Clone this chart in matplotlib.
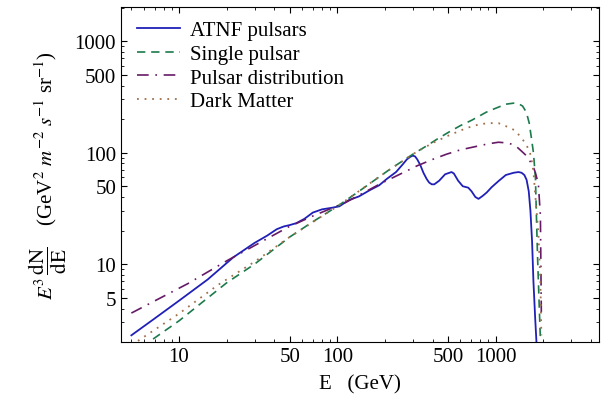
import numpy as np
import matplotlib
matplotlib.use("Agg")
import matplotlib.pyplot as plt
from matplotlib.ticker import FixedLocator, LogLocator, NullFormatter, FuncFormatter

plt.rcParams["font.family"] = ["Liberation Serif", "DejaVu Serif"]
plt.rcParams["mathtext.fontset"] = "stix"

# values (E in GeV, E^3 dN/dE)
atnf_E = [5.0, 6.9, 10, 15.2, 22, 30, 36, 41.5, 46, 50, 55, 62, 70, 80, 92, 103,
          118, 137, 160, 184, 205, 235, 260, 275, 290, 300, 310, 320, 335, 350, 367,
          380, 395, 410, 440, 480, 527, 545, 580, 620, 672, 705, 745, 780, 830, 880,
          944, 1042, 1160, 1300, 1396, 1460, 1520, 1570, 1620, 1660, 1700, 1734,
          1780, 1812]
atnf_F = [2.3, 3.2, 4.7, 7.3, 11.5, 15.5, 18, 20.6, 21.8, 22.4, 23.3, 25.5, 29, 31,
          32, 33, 37.5, 40.5, 46, 51, 58, 67, 79, 87, 92, 94, 92.5, 87, 77, 66, 58,
          54, 52, 52, 56, 64, 67, 65, 56, 50, 48.5, 45, 40, 38.5, 41, 44,
          49, 55.5, 63, 66, 67, 66, 63, 57, 45, 30, 16, 7,
          3.2, 2.0]

single_E = [6.86, 10, 20, 30, 50, 70, 100, 137, 212, 304, 363, 430, 507, 600, 705,
            875, 1000, 1160, 1300, 1400, 1480, 1563, 1630, 1684, 1734, 1785, 1811,
            1840, 1864, 1919]
single_F = [2.13, 3.1, 6.8, 10, 17.5, 24, 33, 45, 70, 98, 114, 133, 153, 175, 195,
            231, 250, 272, 278, 274, 262, 231, 185, 135, 100, 60, 27,
            12, 6.9, 2.1]

distr_E = [5.0, 11.4, 20, 49, 70, 114, 184, 271, 318, 400, 491, 600, 760, 900, 1042,
           1206, 1340, 1460, 1540, 1620, 1684, 1734, 1785, 1864, 1919, 1935, 1946]
distr_F = [3.64, 6.7, 10.7, 21.5, 27, 36, 52, 68, 76, 87, 97, 106, 114, 120, 124,
           122, 115, 103, 96, 87, 80, 74, 66, 52, 27, 8, 3.4]

dm_E = [5.5, 10, 17.6, 30, 50, 100, 200, 304, 400, 491, 600, 705, 800, 904, 1042,
        1170, 1320, 1430, 1540, 1640, 1684, 1734, 1785, 1864, 1919, 1946]
dm_F = [2.05, 3.6, 6.5, 10.5, 17.5, 33, 66, 98, 122, 140, 158, 172, 180, 184, 184,
        172, 159, 140, 122, 103, 88, 68, 40, 19, 6.9, 2.3]

labels = ["ATNF pulsars", "Single pulsar", "Pulsar distribution", "Dark Matter"]
x_major = [10, 50, 100, 500, 1000]
y_major = [5, 10, 50, 100, 500, 1000]

fig = plt.figure(figsize=(6.02, 4.06), dpi=100)
ax = fig.add_axes([0.201, 0.155, 0.794, 0.825])

ax.plot(atnf_E, atnf_F, color="#2020b8", lw=1.3, label=labels[0])
ax.plot(single_E, single_F, color="#1d7a4c", lw=1.2, ls=(0, (5, 3.5)), label=labels[1])
ax.plot(distr_E, distr_F, color="#661a66", lw=1.2, ls=(0, (7, 4, 1, 4)), label=labels[2])
ax.plot(dm_E, dm_F, color="#a0704a", lw=1.3, ls=(0, (1, 3.2)), label=labels[3])

ax.set_xscale("log")
ax.set_yscale("log")
ax.set_xlim(4.3, 4500)
ax.set_ylim(2.0, 2020)

fmt = FuncFormatter(lambda v, p: f"{v:g}")
ax.xaxis.set_major_locator(FixedLocator(x_major))
ax.yaxis.set_major_locator(FixedLocator(y_major))
ax.xaxis.set_major_formatter(fmt)
ax.yaxis.set_major_formatter(fmt)
ax.xaxis.set_minor_locator(LogLocator(base=10, subs=[1, 2, 3, 4, 5, 6, 7, 8, 9], numticks=20))
ax.yaxis.set_minor_locator(LogLocator(base=10, subs=[1, 2, 3, 4, 5, 6, 7, 8, 9], numticks=20))
ax.xaxis.set_minor_formatter(NullFormatter())
ax.yaxis.set_minor_formatter(NullFormatter())
ax.tick_params(which="both", direction="in", top=True, right=True, labelsize=15)
ax.tick_params(which="major", length=4, width=0.8)
ax.tick_params(which="minor", length=2, width=0.6)

ax.set_xlabel("E   (GeV)", fontsize=15, labelpad=6)
ax.set_ylabel(r"$E^3\,\dfrac{\mathrm{dN}}{\mathrm{dE}}$    (GeV$^2$ $m^{-2}$ $s^{-1}$ sr$^{-1}$)",
              fontsize=15, labelpad=4)

ax.legend(loc="upper left", frameon=False, fontsize=15, handlelength=2.1,
          labelspacing=0.2, borderaxespad=0.0, handletextpad=0.45,
          bbox_to_anchor=(0.015, 0.985))

fig.savefig("out.png", dpi=100)
